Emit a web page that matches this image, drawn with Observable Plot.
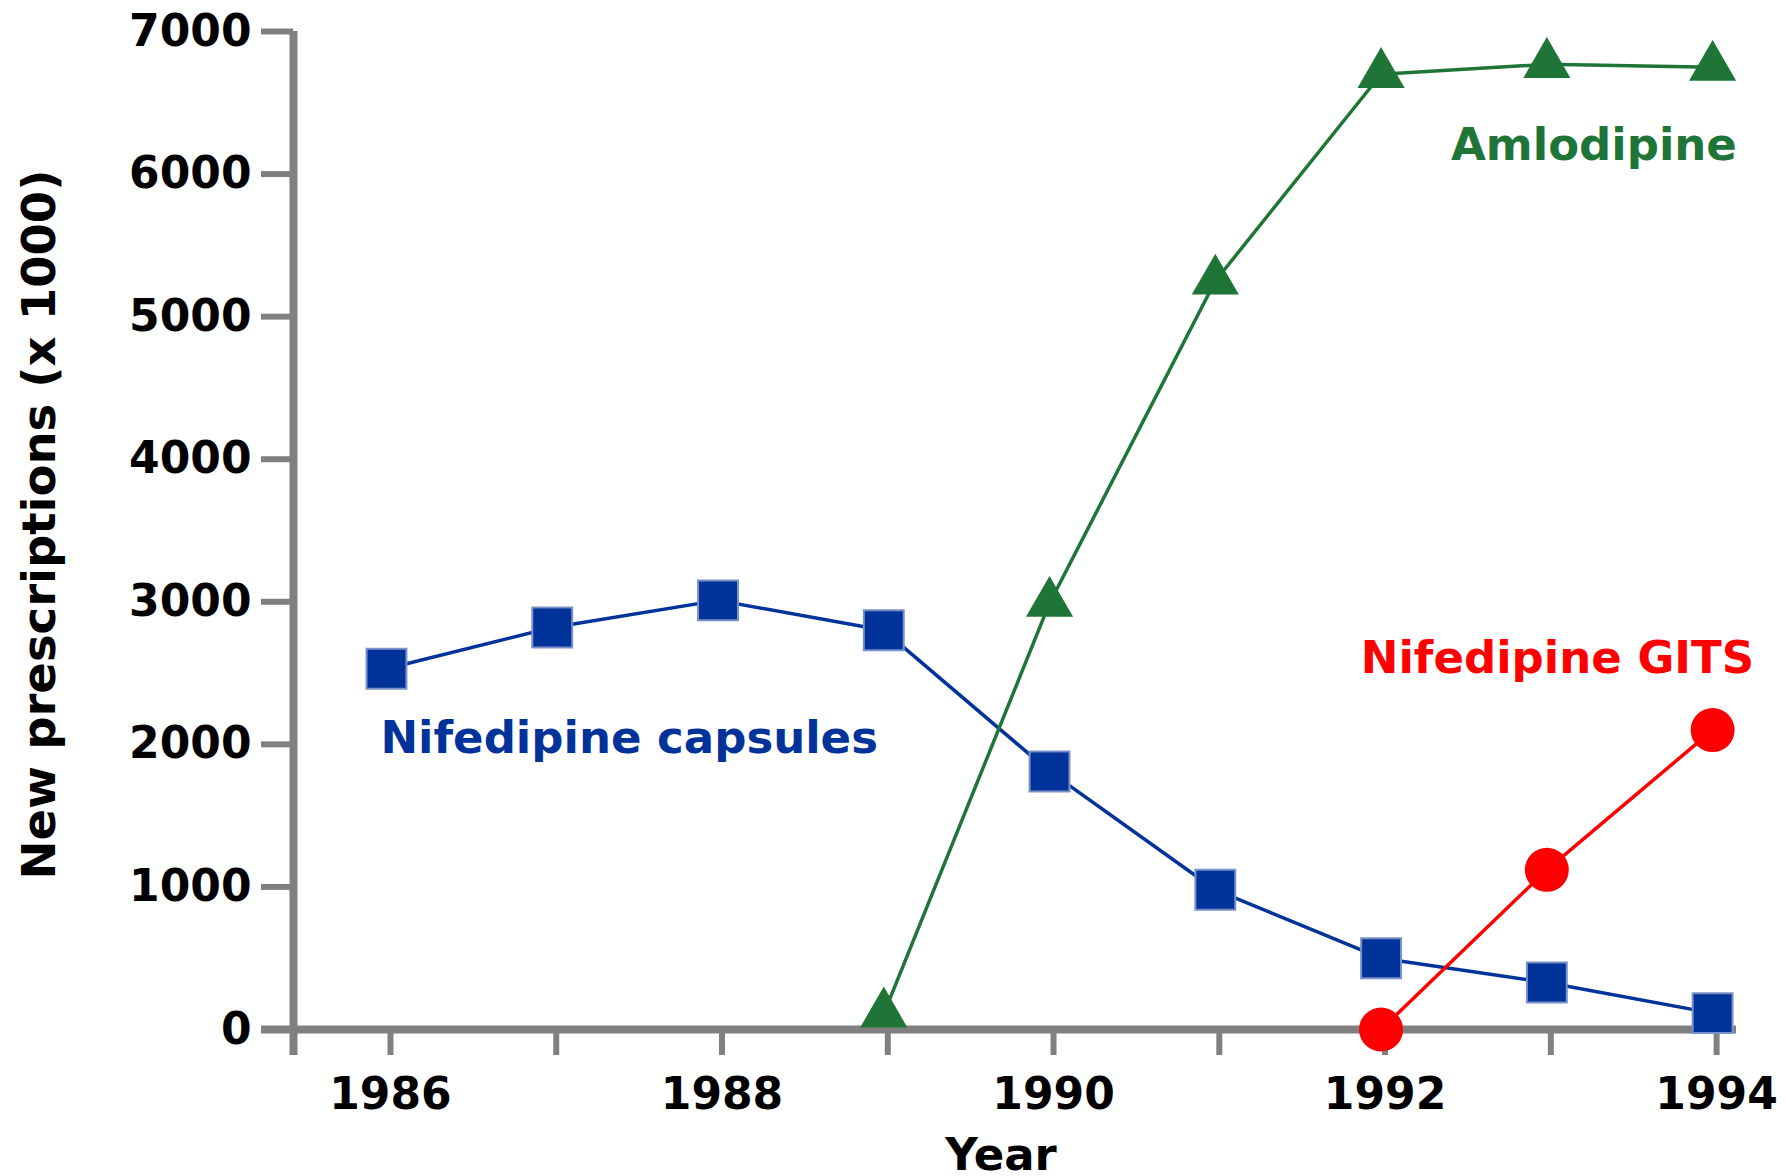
<!DOCTYPE html>
<html>
<head>
<meta charset="utf-8">
<script src="https://cdn.jsdelivr.net/npm/d3@7"></script>
<script src="https://cdn.jsdelivr.net/npm/@observablehq/plot@0.6"></script>
<style>
  html, body { margin: 0; padding: 0; background: #ffffff; }
  #chart svg { display: block; }
</style>
</head>
<body>
<div id="chart"></div>
<script>
// ---- data ----
const capsuleYears = [1986, 1987, 1988, 1989, 1990, 1991, 1992, 1993, 1994];
const capsuleValues = [2530, 2820, 3010, 2800, 1810, 980, 500, 330, 115];

const amlodipineYears = [1989, 1990, 1991, 1992, 1993, 1994];
const amlodipineValues = [110, 2990, 5250, 6700, 6770, 6750];

const gitsYears = [1992, 1993, 1994];
const gitsValues = [0, 1120, 2100];

const yTickValues = [0, 1000, 2000, 3000, 4000, 5000, 6000, 7000];
const xTickValues = [1986, 1987, 1988, 1989, 1990, 1991, 1992, 1993, 1994];

const seriesNames = ["Nifedipine capsules", "Amlodipine", "Nifedipine GITS"];
const labelYears = [1987.44, 1993.26, 1993.04];
const labelValues = [2040, 6200, 2600];

const yTitle = "New prescriptions (x 1000)";
const xTitle = "Year";

// ---- build tables ----
const capsules = capsuleYears.map((year, i) => ({year, value: capsuleValues[i]}));
const amlodipine = amlodipineYears.map((year, i) => ({year, value: amlodipineValues[i]}));
const gits = gitsYears.map((year, i) => ({year, value: gitsValues[i]}));
const labels = seriesNames.map((name, i) => ({name, year: labelYears[i], value: labelValues[i]}));

const BLUE = "#003399", GREEN = "#1f7537", RED = "#ff0000", GRAY = "#808080";
const labelColors = {"Nifedipine capsules": BLUE, "Amlodipine": GREEN, "Nifedipine GITS": RED};
const xMin = 1985.415, xMax = 1994.12;
const shift = -4;

const chart = Plot.plot({
  width: 1786,
  height: 1176,
  marginLeft: 293,
  marginRight: 50,
  marginTop: 31,
  marginBottom: 147,
  x: {domain: [xMin, xMax]},
  y: {domain: [0, 7000]},
  style: {
    fontFamily: "'DejaVu Sans', Verdana, sans-serif",
    fontWeight: "bold",
    background: "#ffffff",
    color: "#000000",
    overflow: "visible"
  },
  marks: [
    // axis lines
    Plot.ruleX([xMin], {stroke: GRAY, strokeWidth: 8, insetBottom: -26}),
    Plot.ruleY([0], {stroke: GRAY, strokeWidth: 8, insetLeft: -32}),
    Plot.axisY({
      ticks: yTickValues, tickSize: 32, tickPadding: 10,
      stroke: GRAY, strokeWidth: 6, fill: "#000000",
      fontSize: 44, fontWeight: "bold",
      tickFormat: d => String(d), label: null
    }),
    Plot.axisX({
      ticks: xTickValues, tickSize: 26, tickPadding: 22,
      stroke: GRAY, strokeWidth: 6, fill: "#000000",
      fontSize: 44, fontWeight: "bold",
      tickFormat: d => (d % 2 === 0 ? String(d) : ""), label: null
    }),
    // axis titles
    Plot.text([yTitle], {
      frameAnchor: "left", textAnchor: "middle", dx: -253, dy: -6, rotate: -90,
      fontSize: 46.5, fontWeight: "bold", fill: "#000000"
    }),
    Plot.text([xTitle], {
      frameAnchor: "bottom", dx: -14, dy: 140,
      fontSize: 45, fontWeight: "bold", fill: "#000000"
    }),
    // series
    Plot.line(capsules, {x: "year", y: "value", dx: shift, stroke: BLUE, strokeWidth: 3.5}),
    Plot.dot(capsules, {x: "year", y: "value", dx: shift, symbol: "square", r: 22.5, fill: BLUE, stroke: "#7a90c8", strokeWidth: 2}),
    Plot.line(amlodipine, {x: "year", y: "value", dx: shift, stroke: GREEN, strokeWidth: 3.5}),
    Plot.dot(amlodipine, {x: "year", y: "value", dx: shift, symbol: "triangle", r: 17.5, fill: GREEN}),
    Plot.line(gits, {x: "year", y: "value", dx: shift, stroke: RED, strokeWidth: 3.5}),
    Plot.dot(gits, {x: "year", y: "value", dx: shift, symbol: "circle", r: 22, fill: RED}),
    // series labels
    Plot.text(labels, {
      x: "year", y: "value", text: "name",
      fill: d => labelColors[d.name],
      fontSize: 45, fontWeight: "bold"
    })
  ]
});

document.getElementById("chart").appendChild(chart);
</script>
</body>
</html>
